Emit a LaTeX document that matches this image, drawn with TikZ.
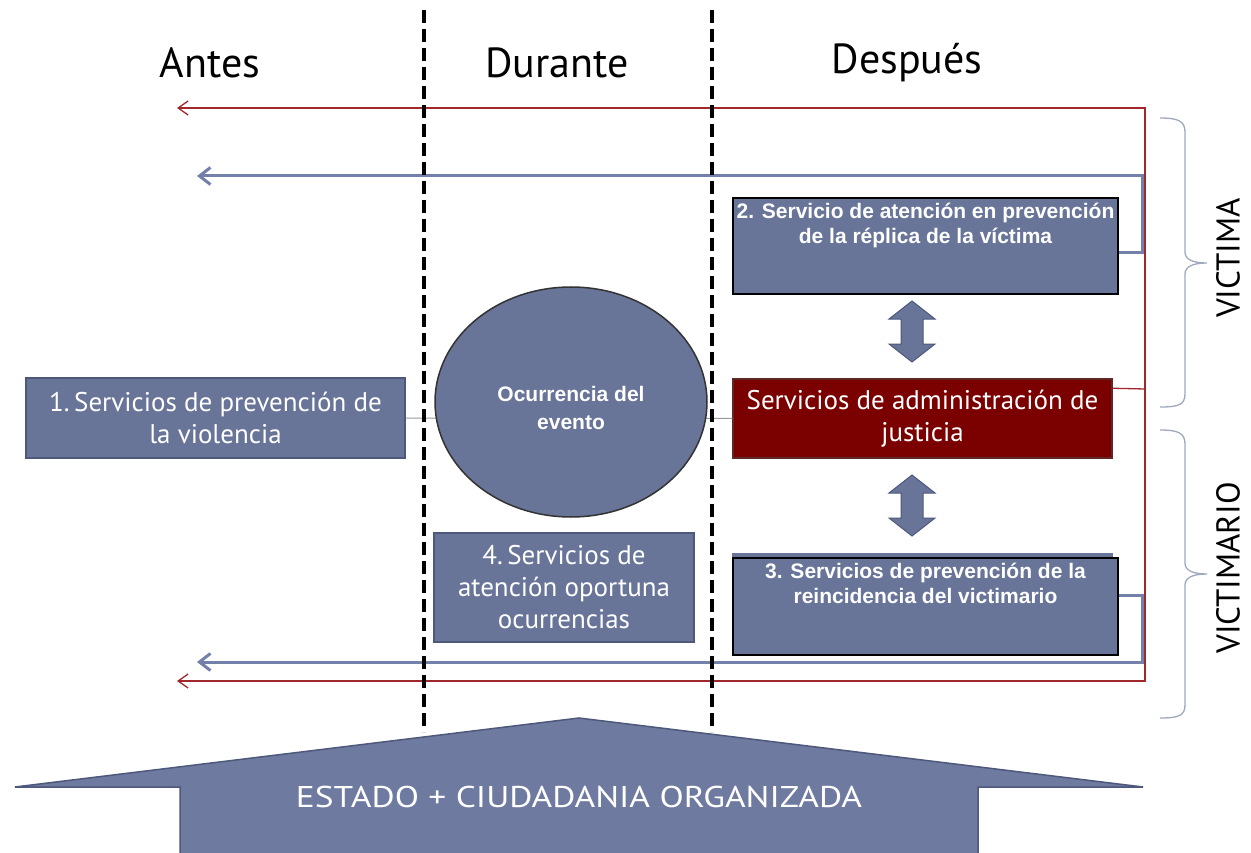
\documentclass[tikz,border=0pt]{standalone}
\usepackage{fontspec}
\setmainfont{PT Sans}
\newfontfamily\arialf{Liberation Sans}
\usetikzlibrary{arrows.meta,shapes.geometric}
\definecolor{boxblue}{RGB}{104,116,152}
\definecolor{boxedge}{RGB}{78,88,122}
\definecolor{lineblue}{RGB}{114,128,170}
\definecolor{redcol}{RGB}{160,40,45}
\definecolor{justred}{RGB}{123,0,0}
\definecolor{justedge}{RGB}{95,40,40}
\definecolor{bracecol}{RGB}{160,168,190}
\definecolor{bigarrow}{RGB}{111,122,160}
\tikzset{
  gbox/.style={draw=boxedge, line width=1.5pt, fill=boxblue, minimum width=#1, inner sep=0pt},
  kbox/.style={draw=black, line width=2pt, fill=boxblue, minimum width=#1, inner sep=0pt},
  gilltext/.style={text=white, align=center, font=\fontsize{27}{32}\selectfont},
  arialtext/.style={text=white, align=center, font=\arialf\bfseries\fontsize{21}{24.5}\selectfont, inner sep=0pt},
  header/.style={font=\fontsize{42}{44}\selectfont, inner sep=0pt},
  sidelabel/.style={font=\fontsize{33}{34}\selectfont, rotate=90, inner sep=0pt},
  bluearrow/.style={draw=lineblue, line width=3pt, -{Straight Barb[length=11pt,width=17pt]}},
  redarrow/.style={draw=redcol, line width=1.3pt, -{Straight Barb[length=10pt,width=14pt]}},
  redln/.style={draw=redcol, line width=1.3pt},
  divider/.style={draw=black, line width=3.5pt, dash pattern=on 13pt off 6pt},
  dblarrow/.style={draw=boxedge, line width=1pt, fill=boxblue},
  bracestyle/.style={draw=bracecol, line width=1.3pt}
}
\begin{document}
\begin{tikzpicture}[x=1pt,y=-1pt]
\useasboundingbox (0,0) rectangle (1251,853);
\fill[white] (0,0) rectangle (1251,853);

% headers
\node[header] (hA) at (210,63) {Antes};
\node[header] (hD) at (557,63) {Durante};
\node[header] (hP) at (907,63) {Después};

% coordinates for feedback loops
\coordinate (rt) at (1145,108);
\coordinate (rtl) at (177,108);
\coordinate (rm) at (1145,389);
\coordinate (rb) at (1145,681);
\coordinate (rbl) at (177,681);
\coordinate (bt) at (1142,176);
\coordinate (btl) at (197,176);
\coordinate (bbm) at (1142,662);
\coordinate (bbl) at (197,662);

% boxes
\node[gbox=379pt, minimum height=80pt, gilltext] (b1) at (215.5,418) {1.\,Servicios de prevención de\\la violencia};
\node[gbox=379pt, minimum height=79pt, draw=justedge, fill=justred, gilltext] (just) at (922.5,418.5) {Servicios de administración de\\justicia};

% gray link line behind ellipse
\draw[gray!80, line width=1pt] (b1.east) -- (just.west);

\node[ellipse, draw=black!80, line width=1.5pt, fill=boxblue, minimum width=272pt, minimum height=230pt, inner sep=0pt] (ev) at (571,402) {};
\node[arialtext, font=\arialf\bfseries\fontsize{21}{28}\selectfont] (evt) at (571,408) {Ocurrencia del\\evento};

\node[gbox=260pt, minimum height=109pt, gilltext] (b4) at (564,587.5) {4.\,Servicios de\\atención oportuna\\ocurrencias};

\node[kbox=385pt, minimum height=96pt] (b2) at (925.5,246) {};
\node[arialtext, anchor=north] (b2t) at (925.5,203) {2. Servicio de atención en prevención\\de la réplica de la víctima};

\node[gbox=379pt, minimum height=96pt, draw=boxblue] (b3back) at (922.5,602) {};
\node[kbox=385pt, minimum height=97pt] (b3) at (925.5,606.5) {};
\node[arialtext, anchor=north] (b3t) at (925.5,563) {3. Servicios de prevención de la\\reincidencia del victimario};

% double arrows
\draw[dblarrow] (912,301) -- (935,319) -- (923,319) -- (923,344) -- (935,344) -- (912,362) -- (889,344) -- (901,344) -- (901,319) -- (889,319) -- cycle;
\draw[dblarrow] (912,475) -- (935,493) -- (923,493) -- (923,518) -- (935,518) -- (912,536) -- (889,518) -- (901,518) -- (901,493) -- (889,493) -- cycle;

% red feedback lines
\draw[redln] ([yshift=-10pt]just.north east) -- (rm);
\draw[redarrow] (rm) -- (rt) -- (rtl);
\draw[redarrow] (rm) -- (rb) -- (rbl);

% blue feedback lines
\draw[bluearrow] ([yshift=-7pt]b2.east) -- ([yshift=-7pt]b2.east -| bt) -- (bt) -- (btl);
\draw[bluearrow] ([yshift=11.5pt]b3.east) -- ([yshift=11.5pt]b3.east -| bbm) -- (bbm) -- (bbl);

% dividers
\coordinate (d1t) at (424,10);
\coordinate (d1b) at (424,732);
\coordinate (d2t) at (712,10);
\coordinate (d2b) at (712,732);
\draw[divider] (d1t) -- (d1b);
\draw[divider] (d2t) -- (d2b);

% braces
\draw[bracestyle] (1160,118) .. controls (1178,118) and (1185,121) .. (1185,132) -- (1185,252)
  .. controls (1185,259) and (1192,263) .. (1207,263)
  .. controls (1192,263) and (1185,267) .. (1185,274) -- (1185,394)
  .. controls (1185,405) and (1178,407) .. (1160,407);
\draw[bracestyle] (1160,430) .. controls (1178,430) and (1185,433) .. (1185,444) -- (1185,563)
  .. controls (1185,570) and (1192,574) .. (1207,574)
  .. controls (1192,574) and (1185,578) .. (1185,585) -- (1185,705)
  .. controls (1185,716) and (1178,718) .. (1160,718);
\node[sidelabel] (lv) at (1228,258) {VICTIMA};
\node[sidelabel] (lvm) at (1228,568) {VICTIMARIO};

% big bottom arrow
\begin{scope}
\clip (0,0) rectangle (1251,853);
\draw[draw=boxedge, line width=1.5pt, fill=bigarrow] (579,718) -- (1143,787) -- (978,787) -- (978,870) -- (180,870) -- (180,787) -- (15,787) -- cycle;
\end{scope}
\node[text=white, font=\fontsize{30}{32}\selectfont, inner sep=0pt, xscale=1.18] (st) at (579,797) {ESTADO + CIUDADANIA ORGANIZADA};
\end{tikzpicture}
\end{document}
